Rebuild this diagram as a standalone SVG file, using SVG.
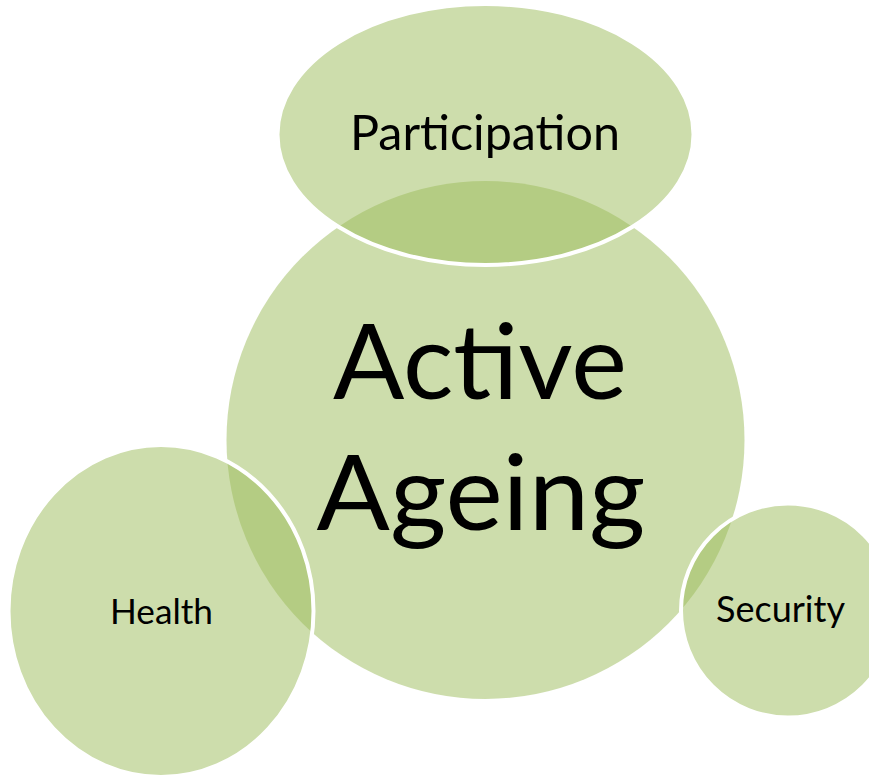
<svg xmlns="http://www.w3.org/2000/svg" width="869" height="776" viewBox="0 0 869 776">
  <style>
    .bubble { fill: #9bbb59; fill-opacity: 0.5; }
    .sat { stroke: #ffffff; stroke-width: 4; }
    .lbl { font-family: "Lato", "Open Sans", "Liberation Sans", sans-serif; fill: #000000; text-anchor: middle; }
  </style>
  <rect width="869" height="776" fill="#ffffff"/>

  <!-- central circle -->
  <g id="active-ageing">
    <circle class="bubble" cx="485.5" cy="440" r="259"/>
    <text class="lbl" x="480" y="399" font-size="105" textLength="294" lengthAdjust="spacingAndGlyphs">Active</text>
    <text class="lbl" x="481" y="530" font-size="105" textLength="329" lengthAdjust="spacingAndGlyphs">Ageing</text>
  </g>

  <!-- satellites -->
  <g id="participation">
    <ellipse class="bubble sat" cx="485.5" cy="134.5" rx="208" ry="130.5"/>
    <text class="lbl" x="485" y="150" font-size="49" textLength="270" lengthAdjust="spacingAndGlyphs">Participation</text>
  </g>

  <g id="health">
    <ellipse class="bubble sat" cx="161" cy="611" rx="152.5" ry="166"/>
    <text class="lbl" x="161.5" y="624" font-size="35" textLength="103" lengthAdjust="spacingAndGlyphs">Health</text>
  </g>

  <g id="security">
    <circle class="bubble sat" cx="788" cy="610.5" r="107"/>
    <text class="lbl" x="780.5" y="622" font-size="37" textLength="129" lengthAdjust="spacingAndGlyphs">Security</text>
  </g>
</svg>
